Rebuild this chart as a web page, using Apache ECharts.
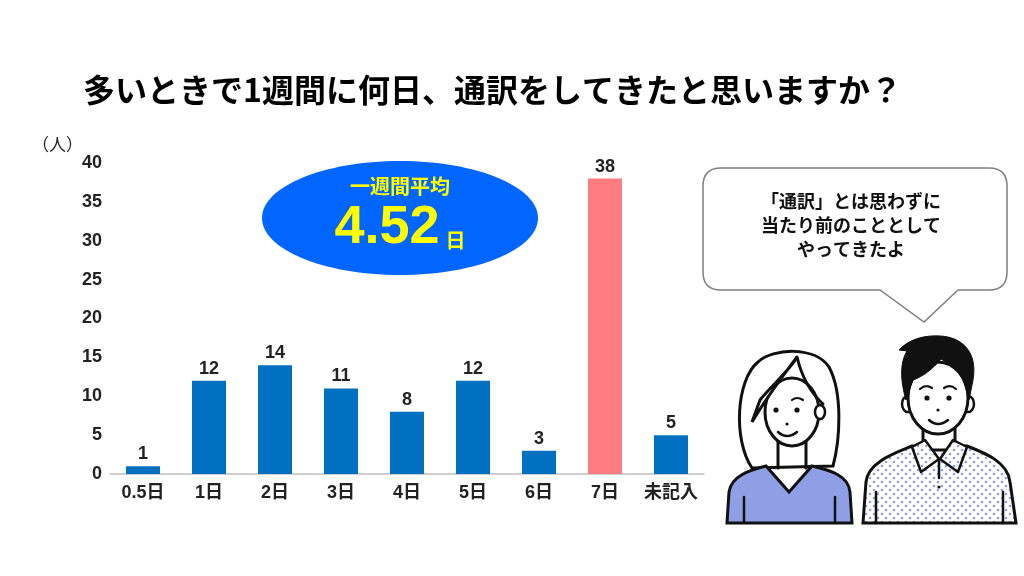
<!DOCTYPE html>
<html>
<head>
<meta charset="utf-8">
<script src="https://cdn.jsdelivr.net/npm/echarts@6/dist/echarts.min.js"></script>
<style>html,body{margin:0;padding:0;background:#fff;}#c{width:1024px;height:576px;}</style>
</head>
<body>
<div id="c"></div>
<script>
const categories = ['0.5日', '1日', '2日', '3日', '4日', '5日', '6日', '7日', '未記入'];
const values = [1, 12, 14, 11, 8, 12, 3, 38, 5];
const highlightCategory = '7日';
const yTicks = [0, 5, 10, 15, 20, 25, 30, 35, 40];
const titleText = '多いときで1週間に何日、通訳をしてきたと思いますか？';
const unitText = '（人）';
const averageLabel = '一週間平均';
const averageValue = '4.52';
const bubbleLines = ['「通訳」とは思わずに', '当たり前のこととして', 'やってきたよ'];

const FONT = '"Liberation Sans", "Noto Sans CJK JP", sans-serif';
const JFONT = '"Noto Sans CJK JP", "Liberation Sans", sans-serif';

// dotted shirt pattern
const pc = document.createElement('canvas');
pc.width = 8; pc.height = 8;
const pctx = pc.getContext('2d');
pctx.fillStyle = '#ffffff'; pctx.fillRect(0, 0, 8, 8);
pctx.fillStyle = '#8e9fe6';
[[2, 2], [6, 6]].forEach(p => { pctx.beginPath(); pctx.arc(p[0], p[1], 1.3, 0, Math.PI * 2); pctx.fill(); });
const dotPattern = { image: pc, repeat: 'repeat' };

const chart = echarts.init(document.getElementById('c'));
const ink = '#111';
const sw = 3;

let pathId = 0;
function P(d, style, extra) {
  const name = 'deco_path_' + (pathId++);
  echarts.graphic.registerShape(name, echarts.graphic.extendPath(d, {}));
  return Object.assign({ type: name, style: style, silent: true }, extra || {});
}
function line(d, w) {
  return P(d, { fill: null, stroke: ink, lineWidth: w || sw, lineCap: 'round', lineJoin: 'round' });
}

const people = [
  // woman
  P('M 752 468 C 733 440 736 380 758 362 C 773 348 815 346 829 367 C 843 393 840 440 833 466 Z', { fill: '#fff', stroke: ink, lineWidth: sw }),
  { type: 'ellipse', shape: { cx: 792, cy: 412, rx: 27, ry: 34 }, style: { fill: '#fff', stroke: ink, lineWidth: sw } },
  { type: 'ellipse', shape: { cx: 820, cy: 412, rx: 5, ry: 7 }, style: { fill: '#fff', stroke: ink, lineWidth: 2.5 } },
  P('M 797 357 C 786 372 770 392 752 422 L 760 400 C 772 385 790 370 797 357 Z', { fill: '#fff', stroke: ink, lineWidth: sw }),
  line('M 797 357 C 802 378 810 392 823 404'),
  line('M 778 442 L 778 468'),
  line('M 806 442 L 806 468'),
  P('M 727 523 L 729 492 C 731 476 750 470 766 466 L 789 492 L 812 466 C 830 470 849 476 850 492 L 852 523 Z', { fill: '#8e9fe6', stroke: ink, lineWidth: sw }),
  line('M 744 497 L 744 523', 2.5),
  line('M 835 497 L 835 523', 2.5),
  { type: 'circle', shape: { cx: 776, cy: 410, r: 2.6 }, style: { fill: ink } },
  { type: 'circle', shape: { cx: 797, cy: 410, r: 2.6 }, style: { fill: ink } },
  line('M 792 400 Q 797 396 803 400', 2.2),
  { type: 'circle', shape: { cx: 787, cy: 424, r: 1.6 }, style: { fill: ink } },
  line('M 778 432 Q 787 440 797 432', 2.5),
  // man
  P('M 863 523 L 866 482 C 868 462 895 453 912 446 L 967 446 C 985 453 1008 462 1010 482 L 1016 523 Z', { fill: dotPattern, stroke: ink, lineWidth: sw }),
  P('M 923 425 L 923 450 L 955 450 L 955 425 Z', { fill: '#fff', stroke: ink, lineWidth: sw }),
  P('M 912 447 L 921 472 L 939 459 L 925 440 Z', { fill: dotPattern, stroke: ink, lineWidth: 2.5, lineJoin: 'round' }),
  P('M 967 447 L 958 472 L 940 459 L 953 440 Z', { fill: dotPattern, stroke: ink, lineWidth: 2.5, lineJoin: 'round' }),
  line('M 939 460 L 939 478', 2.5),
  { type: 'circle', shape: { cx: 939, cy: 487, r: 1.6 }, style: { fill: ink } },
  line('M 876 492 L 876 523', 2.5),
  line('M 1003 492 L 1003 523', 2.5),
  { type: 'ellipse', shape: { cx: 908, cy: 404, rx: 6, ry: 8 }, style: { fill: '#fff', stroke: ink, lineWidth: 2.5 } },
  { type: 'ellipse', shape: { cx: 968, cy: 404, rx: 6, ry: 8 }, style: { fill: '#fff', stroke: ink, lineWidth: 2.5 } },
  { type: 'ellipse', shape: { cx: 938, cy: 398, rx: 30, ry: 36 }, style: { fill: '#fff', stroke: ink, lineWidth: sw } },
  P('M 906 400 C 900 380 900 362 907 351 L 899 350 C 909 339 925 335 940 336 C 962 337 978 352 973 380 L 969 400 C 966 388 963 378 958 372 C 952 366 946 362 941 359 C 933 369 922 377 913 380 C 910 388 908 394 906 400 Z', { fill: ink, stroke: ink, lineWidth: 1 }),
  { type: 'circle', shape: { cx: 927, cy: 398, r: 2.6 }, style: { fill: ink } },
  { type: 'circle', shape: { cx: 949, cy: 398, r: 2.6 }, style: { fill: ink } },
  line('M 920 389 Q 926 384 932 388', 2.2),
  line('M 944 388 Q 950 384 956 389', 2.2),
  { type: 'circle', shape: { cx: 938, cy: 410, r: 1.6 }, style: { fill: ink } },
  line('M 929 420 Q 938 428 948 420', 2.5)
];

chart.setOption({
  animation: false,
  backgroundColor: '#fff',
  title: {
    text: titleText, left: 78, top: 69,
    textStyle: { fontFamily: JFONT, fontSize: 32, fontWeight: 'bold', color: '#000' }
  },
  grid: { left: 110, right: 320, top: 163, bottom: 102, containLabel: false },
  xAxis: {
    type: 'category', data: categories,
    axisTick: { show: false },
    axisLine: { lineStyle: { color: '#bfbfbf', width: 1.5 } },
    axisLabel: { interval: 0, color: '#222', fontFamily: FONT, fontSize: 18, fontWeight: 'bold', margin: 10 }
  },
  yAxis: {
    type: 'value', min: 0, max: 40, interval: 5,
    splitLine: { show: false }, axisLine: { show: false }, axisTick: { show: false },
    axisLabel: { color: '#222', fontFamily: FONT, fontSize: 18, fontWeight: 'bold', margin: 8,
      formatter: v => yTicks.includes(v) ? String(v) : '' }
  },
  series: [{
    type: 'bar', barWidth: 34,
    data: values.map((v, i) => ({ value: v, itemStyle: { color: categories[i] === highlightCategory ? '#ff7c80' : '#0070c0' } })),
    label: { show: true, position: 'top', distance: 3, color: '#222', fontFamily: FONT, fontSize: 18, fontWeight: 'bold' }
  }],
  graphic: [
    { type: 'text', left: 32, top: 136, style: { text: unitText, fontFamily: JFONT, fontSize: 17, fill: '#222' } },
    { type: 'ellipse', shape: { cx: 400, cy: 218, rx: 138, ry: 57 }, style: { fill: '#0066ff' }, z: 10 },
    { type: 'text', x: 400, y: 186, z: 11, style: { text: averageLabel, fontFamily: JFONT, fontSize: 20, fontWeight: 'bold', fill: '#ffff00', align: 'center', verticalAlign: 'middle' } },
    { type: 'text', x: 400, y: 255, z: 11, style: {
      text: '{a|' + averageValue + '}{b|日}', align: 'center', verticalAlign: 'bottom',
      rich: {
        a: { fontFamily: FONT, fontSize: 54, fontWeight: 'bold', fill: '#ffff00', verticalAlign: 'bottom' },
        b: { fontFamily: JFONT, fontSize: 20, fontWeight: 'bold', fill: '#ffff00', verticalAlign: 'bottom', padding: [0, 0, 5, 6] }
      } } },
    P('M 721 168 L 989 168 Q 1007 168 1007 186 L 1007 272 Q 1007 290 989 290 L 958 290 L 924 322 L 880 290 L 721 290 Q 703 290 703 272 L 703 186 Q 703 168 721 168 Z',
      { fill: '#fff', stroke: '#7f7f7f', lineWidth: 1.5 }, { z: 10 }),
    { type: 'text', x: 851, y: 225, z: 11, style: { text: bubbleLines.join('\n'), fontFamily: JFONT, fontSize: 18, fontWeight: 'bold', lineHeight: 24, fill: '#111', align: 'center', verticalAlign: 'middle' } },
    { type: 'group', z: 10, children: people }
  ]
});
</script>
</body>
</html>
